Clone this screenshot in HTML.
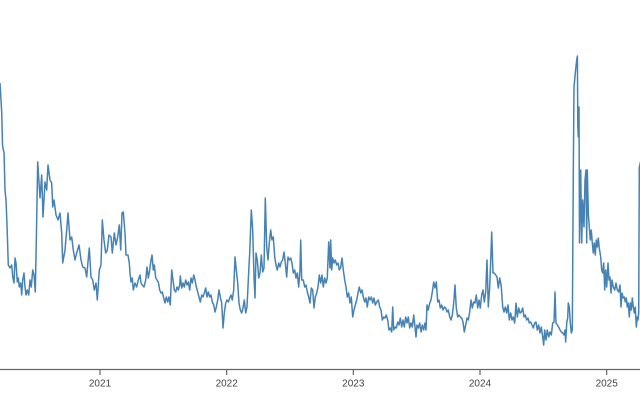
<!DOCTYPE html>
<html><head><meta charset="utf-8"><style>
html,body{margin:0;padding:0;background:#fff;}
svg{display:block;}
text{font-family:"Liberation Sans",sans-serif;font-size:10px;fill:#444;}
</style></head><body>
<svg width="640" height="400" viewBox="0 0 640 400" xmlns="http://www.w3.org/2000/svg">
<polyline fill="none" stroke="#4682b4" stroke-width="1.5" stroke-linejoin="round" points="
0,83 1,100 1.7,112 2.5,145 3.3,150 4,152 5,190 6,200 7,225 8.3,265 10,268 11.7,265 12.7,277 14,283 15,258 16,263 17.3,282 18.3,278 19.3,287 20.7,283 21.7,295 22.7,280 24,273 25,287 26,295 27.3,290 28.7,295 30,280 31.3,287 32.7,270 34,275 35.3,292 36.5,230 37.7,162
40,198 41.7,175 43,217 45,182 46.7,190 48,165 50,180 51.7,183 52.7,207 54,200 56,215 58,220 60,213 61.7,233 62.7,263 65,250 66.7,230 68,213 70,240 71.7,237 73.3,250 75,260 76.7,253 79,245 81,260 82.7,267 85,268 86.7,277 87.7,265 89.3,248 91,277 92.7,280 94.3,290 96,283 97.3,300 99.3,270 101,265 102.3,220 104,240 105.7,253 107.3,250 109,235 111,237 112.3,253 114.3,233 116,245 117.7,237 119.3,225 120.7,250 122,213 123.3,212 125,233 126,255 128,255 129.3,263
130,273 131,282 132.3,278 133.3,290 135,283 136.7,287 138.3,280 140,275 141,283 142.3,285 144,287 145.7,280 147,267 148.3,278 149.7,270 151,260 152,255 153.3,270 154.3,265 155.7,278 157,280 158.3,282 159.7,290 161,293 162.3,292 163.7,298 165,303 166.3,297 167.7,302 169,297 170.3,305 171.7,270 173,280 174.3,290 175.7,292 177,287 178.3,290 179.7,285 180.3,276 181.7,288 183,283 184.3,287 185.7,280 187,285 188.3,282 189.7,290 191,278 192.3,283 193.7,275 195,280 196.3,287 197.7,292 199,297 200.3,302 201.7,295 203,297 204.3,293 205.7,288 207,297 208.3,292 209.7,297 211,295 212.3,302 213.7,305 215,312 216.3,307 217.7,300 219,290 220.3,297 221.7,303 223,328 224.3,313 225.7,303 227,300 228.3,302 229.7,298 231,295 232.3,300 233.7,290 235,257 236.3,270 237.7,283 239,303 240.3,310 241.7,313 243,308 244.3,300 245.7,313 247,307 248.3,280 249.7,253 251.3,210 252.7,230 254,277 255,298 256,253 257.3,260 258.7,278 260,273 261.3,255 262.7,272 264,268 265.3,198 266.7,247 268,260 269.3,243 270.7,230 272,240 273.3,237 274.7,257 276,265 277.3,270 278.7,263 280,267 281.3,262 282.7,260 284,252 285.3,263 286.7,277 288,257 289.3,260 290.7,258 292,263 293.3,273 294.7,270 296,278 297.3,273 298.7,287 300,270 300.7,240 301.7,280 303.3,280 304.7,287 306,285 307.3,292 308.7,297 310,303 311.3,288 312.7,290 314,308 315.3,297 316.7,293 318,287 319.3,275 320.7,283 322,275 323.3,287 324.7,278 326,283 327.3,278 328.7,242 330,268 330.7,240 331.7,270 332.7,258 334,263 335.3,260 336.7,265 338,263 339.3,270 340.7,267 342,258 343.3,270 344.7,280 346,287 347.3,297 348.7,293 350,303 351.3,297 352.7,317 354,310 355.3,305 356.7,300 358,293 359.3,287 360.7,293 362,290 363.3,297 364.7,302 366,298 367.3,307 368.7,297 370,300 371.3,297 372.7,303 374,298 375.3,305 376.7,302 378.3,300 379.7,307 381,310 382.3,320 383.7,317 385,318 386.3,315 387.7,320 389,330 390.3,328 391.7,332 392.7,307 393.7,330 395,327 396.3,328 397.7,322 399,325 400.3,318 401.7,327 403,320 404.3,327 405.7,317 407,323 408.3,317 409.7,328 411,323 412.3,327 413.7,315 415,327 416,337 417,325 418.3,328 419.7,323 421,332 422.3,325 423.7,330 425,323 426,330 427,305 428.3,310 429.7,303 431,300 432.3,292 433.7,282 435,288 436.3,282 437.7,302 439,300 440.3,308 441.7,305 443,310 444.3,307 445.7,308 447,312 448.3,310 449.7,317 451,320 452.3,315 453.7,303 455,285 456.3,308 457.7,317 459,315 460.3,317 461.7,318 463,322 464.3,332 465.7,325 467,318 468.3,320 469.7,312 471,300 472.3,308 473.7,302 475,303 476.3,295 477.7,308 479,300 480.3,308 481.7,295 483,290 484.3,302 485.7,292 487,260 488.3,307 489.7,287 491,253 491.7,232 493,273 494.3,273 495.7,275 497,277 498.3,288 499.7,278 500.5,282 501.3,287 502.7,307 504,312 505.3,307 506.7,313 508,305 509.3,320 510.7,313 512,320 513.3,317 514.7,323 516,303 517.3,317 518.7,308 520,313 521.3,312 522.7,308 524,317 525.3,315 526.7,320 528,318 529.3,323 530.7,322 532,325 533.3,328 534.7,323 536,322 537.3,330 538.7,325 540,333 541.3,327 542.7,337 543.7,345 544.7,330 546,340 547.3,330 548.7,337 550,332 551.3,335 552.7,323 554,322 555,292 556,323 557.3,325 558.7,327 560,330 561.3,332 562.7,333 564,335 565,330 565.7,342 566.7,323 567.7,318 568.3,303 569.3,307 570.3,323 571.3,333 572.3,330 573.3,173 574,87 575.3,73 576.7,60 577.4,56 577.8,125 578.3,137 579,107 579.5,243 580.7,170 581.7,243 582.7,200 584,227 585,180 586,170 586.7,243 587.3,170 588.3,213 589.3,227 590.3,240 591.3,230 592.3,243 593.3,253 594.3,243 595.3,255 596.3,240 597.3,247 598.3,238 599.3,248 600.7,257 601.7,270 602.7,273 603.7,263 604.7,290 605.7,270 606.7,287 608,263 609,280 610,277 611,293 612,280 613.3,287 614.7,290 616,283 617.3,290 618.7,292 620,285 621,307 622,293 623.3,298 624.3,297 625.3,302 626.3,298 627.3,307 628.3,303 629.3,317 630.3,303 631.3,310 632.3,298 633.3,307 634.3,313 635.3,307 636.3,327 637.3,317 638,320 638.7,313 639.3,167 641,160"/>
<line x1="0" y1="369.5" x2="640" y2="369.5" stroke="#666" stroke-width="1.2"/>
<g stroke="#666" stroke-width="1.2">
<line x1="100" y1="369.5" x2="100" y2="375"/>
<line x1="226.7" y1="369.5" x2="226.7" y2="375"/>
<line x1="353.3" y1="369.5" x2="353.3" y2="375"/>
<line x1="480" y1="369.5" x2="480" y2="375"/>
<line x1="606.7" y1="369.5" x2="606.7" y2="375"/>
</g>
<g text-anchor="middle">
<text x="100" y="386.5">2021</text>
<text x="226.7" y="386.5">2022</text>
<text x="353.3" y="386.5">2023</text>
<text x="480" y="386.5">2024</text>
<text x="606.7" y="386.5">2025</text>
</g>
</svg>
</body></html>
